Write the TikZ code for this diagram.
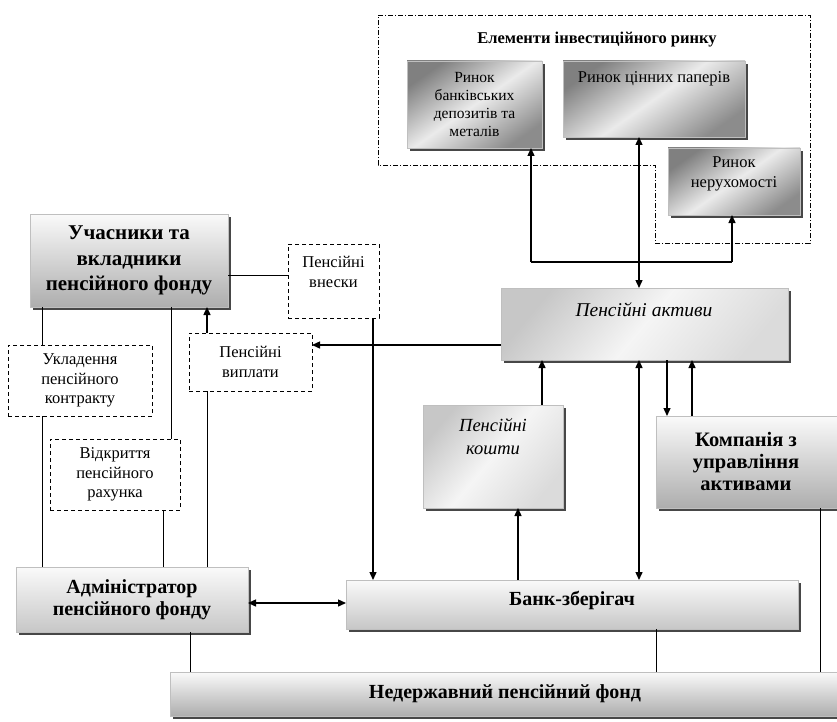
\documentclass[tikz,border=0pt]{standalone}
\usepackage{fontspec}
\setmainfont{Liberation Serif}
\usetikzlibrary{arrows.meta,calc}

\tikzset{
  boxbase/.style={rectangle,draw=black!25,line width=0.7pt,outer sep=0pt,inner sep=2pt,align=center},
  shDiag/.style={left color=black!50,right color=black!45,middle color=black!8,shading angle=35},
  shLight/.style={left color=black!22,right color=black!14,middle color=black!4,shading angle=50},
  shVert/.style={top color=black!2,bottom color=black!32},
  shVertL/.style={top color=black!2,bottom color=black!22},
  dbox/.style={rectangle,draw=black,dashed,dash pattern=on 4pt off 3pt,line width=0.9pt,outer sep=0pt,inner sep=2pt,align=center,fill=white},
  ln/.style={line width=1pt},
  arr/.style={line width=1.4pt,-{Triangle[length=8pt,width=7pt]}},
  arrb/.style={line width=1.4pt,{Triangle[length=8pt,width=7pt]}-{Triangle[length=8pt,width=7pt]}},
  txtA/.style={align=center,font=\fontsize{16.5}{19.5}\selectfont},
  txtR/.style={align=center,font=\fontsize{15.5}{18}\selectfont},
  txtB/.style={align=center,font=\fontsize{21}{25.5}\selectfont\bfseries},
  txtK/.style={align=center,font=\fontsize{20.5}{22}\selectfont\bfseries},
  txtC/.style={align=center,font=\fontsize{20}{22}\selectfont\bfseries},
  txtI/.style={align=center,font=\fontsize{19.5}{23}\selectfont\itshape},
}

% gradient box with a dark drop shadow: name, x1, y1, x2, y2, style, text
\newcommand{\gbox}[7]{%
  \fill[black!72] (#2+3,#3+3) rectangle (#4+3,#5+3);
  \node[boxbase,#6,minimum width={(#4-#2)*1pt},minimum height={(#5-#3)*1pt}] (#1) at ({(#2+#4)/2},{(#3+#5)/2}) {#7};
}
% dashed label box: name, x1, y1, x2, y2, text
\newcommand{\dlbox}[6]{%
  \node[dbox,txtA,minimum width={(#4-#2)*1pt},minimum height={(#5-#3)*1pt}] (#1) at ({(#2+#4)/2},{(#3+#5)/2}) {#6};
}

\begin{document}
\begin{tikzpicture}[x=1pt,y=-1pt]
\useasboundingbox (0,0) rectangle (837,722);
\clip (0,0) rectangle (837,722);

% investment market area
\draw[line width=0.8pt,dash pattern=on 5pt off 2pt on 1pt off 2pt]
  (378,15) -- (810,15) -- (810,243) -- (655,243) -- (655,165) -- (378,165) -- cycle;
\node[font=\fontsize{16.5}{19}\selectfont\bfseries] (title) at (597,40) {Елементи інвестиційного ринку};

\gbox{rbank}{407}{61}{542}{148}{shDiag,txtR}{Ринок\\банківських\\депозитів та\\металів}
\gbox{rcp}{563}{61}{745}{137}{shDiag}{}
\node[txtA] (rcpT) at (654,79) {Ринок цінних паперів};
\gbox{rner}{668}{148}{800}{215}{shDiag}{}
\node[txtA] (rnerT) at (734,174) {Ринок\\нерухомості};

\gbox{uch}{30}{214}{228}{307}{shVert,txtB}{Учасники та\\вкладники\\пенсійного фонду}
\gbox{aktyvy}{501}{288}{788}{360}{shLight}{}
\node[txtI] (aktyvyT) at (644,310) {Пенсійні активи};
\gbox{koshty}{423}{405}{563}{508}{shLight}{}
\node[align=center,font=\fontsize{18.5}{23}\selectfont\itshape] (koshtyT) at (493,437) {Пенсійні\\кошти};
\gbox{komp}{656}{416}{860}{508}{shVert}{}
\node[txtK] (kompT) at (746,461) {Компанія з\\управління\\активами};
\gbox{adm}{16}{567}{248}{632}{shVertL,txtC}{Адміністратор\\пенсійного фонду}
\gbox{bank}{346}{580}{798}{629}{shVertL}{}
\node[txtC] (bankT) at (572,600) {Банк-зберігач};
\gbox{nederzh}{170}{672}{840}{716}{shVert,txtC}{Недержавний пенсійний фонд}

\dlbox{vnes}{288}{244}{379}{318}{}
\node[txtA] (vnesT) at (333.5,272) {Пенсійні\\внески};
\dlbox{vypl}{189}{333}{312}{391}{Пенсійні\\виплати}
\dlbox{ukl}{8}{345}{152}{416}{Укладення\\пенсійного\\контракту}
\dlbox{vidk}{50}{439}{180}{510}{Відкриття\\пенсійного\\рахунка}

% connector columns and junctions
\coordinate (cA) at (42,0);
\coordinate (cB) at (171,0);
\coordinate (cC) at (163,0);
\coordinate (cD) at (207,0);
\coordinate (cE) at (373,0);
\coordinate (cG) at (639,0);
\coordinate (cI) at (542,0);
\coordinate (cJ) at (518,0);
\coordinate (cK) at (667,0);
\coordinate (cL) at (692,0);
\coordinate (cM) at (190,0);
\coordinate (cN) at (656,0);
\coordinate (cO) at (820,0);
\coordinate (jL) at (531,262);
\coordinate (jR) at (732,262);
\coordinate (rU) at (0,275);
\coordinate (rP) at (0,345);
\coordinate (rA) at (0,603);

% market links
\draw[ln,line width=1.2pt] (jL) -- (jR);
\draw[arr] (jL) -- (rbank.south -| jL);
\draw[arr] (jR) -- (rner.south -| jR);
\draw[arrb] (rcp.south -| cG) -- (aktyvy.north -| cG);
\draw[arrb] (aktyvy.south -| cG) -- (bank.north -| cG);

% participants side
\draw[ln] (uch.east |- rU) -- (vnes.west |- rU);
\draw[arr] (vnes.south -| cE) -- (bank.north -| cE);
\draw[arr] (aktyvy.west |- rP) -- (vypl.east |- rP);
\draw[arr] (vypl.north -| cD) -- (uch.south -| cD);
\draw[ln] (vypl.south -| cD) -- (adm.north -| cD);
\draw[ln] (uch.south -| cA) -- (ukl.north -| cA);
\draw[ln] (ukl.south -| cA) -- (adm.north -| cA);
\draw[ln] (uch.south -| cB) -- (vidk.north -| cB);
\draw[ln] (vidk.south -| cC) -- (adm.north -| cC);

% assets flows
\draw[arr] (koshty.north -| cI) -- (aktyvy.south -| cI);
\draw[arr] (bank.north -| cJ) -- (koshty.south -| cJ);
\draw[arr] (aktyvy.south -| cK) -- (komp.north -| cK);
\draw[arr] (komp.north -| cL) -- (aktyvy.south -| cL);
\draw[arrb] (adm.east |- rA) -- (bank.west |- rA);

% links to the fund
\draw[ln] (adm.south -| cM) -- (nederzh.north -| cM);
\draw[ln] (bank.south -| cN) -- (nederzh.north -| cN);
\draw[ln] (komp.south -| cO) -- (nederzh.north -| cO);
\end{tikzpicture}
\end{document}
